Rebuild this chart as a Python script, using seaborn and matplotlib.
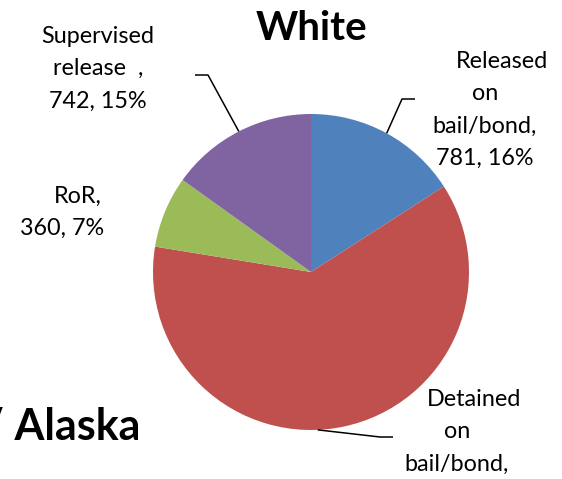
import numpy as np
import seaborn as sns
import matplotlib.pyplot as plt

# data
categories = ["Released on bail/bond", "Detained on bail/bond", "RoR", "Supervised release"]
counts = [781, 3030, 360, 742]
# wrapped label lines as shown in the chart (last line = "count, pct%")
label_lines = [["Released", "on", "bail/bond,"],
               ["Detained", "on", "bail/bond,"],
               ["RoR,"],
               ["Supervised", "release  ,"]]
colors = sns.color_palette(["#4F81BD", "#C0504D", "#9BBB59", "#8064A2"])

sns.set_style("white")
plt.rcParams['font.family'] = ['Lato', 'DejaVu Sans']

W, H = 562, 479
fig = plt.figure(figsize=(W / 100, H / 100), dpi=100)
ax = fig.add_axes([0, 0, 1, 1])

cx, cy, r = 311, H - 272, 158
wedges, _ = ax.pie(counts, colors=colors, startangle=90, counterclock=False,
                   center=(cx, cy), radius=r, wedgeprops=dict(linewidth=0))
ax.set_xlim(0, W)
ax.set_ylim(0, H)
ax.set_aspect('equal')
ax.axis('off')

total = sum(counts)
pct = [round(100 * c / total) for c in counts]

# layout of each label: x of first line, x of other lines, first baseline (px from top)
lab_pos = [(502, 485, 68), (474, 457, 406), (78, 62, 203), (98, 98, 43)]
pitch = 32.3
fs = 16.8
for i, (lines, (x1, x2, y0)) in enumerate(zip(label_lines, lab_pos)):
    txt = lines + [f"{counts[i]}, {pct[i]}%"]
    for j, t in enumerate(txt):
        ax.text(x1 if j == 0 else x2, H - (y0 + j * pitch), t, ha='center',
                va='baseline', fontsize=fs, color='black')

# leader lines: point on the pie edge, elbow, end (px)
lead_frac = [0.5, 0.458, None, 0.5]
lead_pts = [((402, 99), (415, 99)), ((380, 437), (393, 437)), None, ((208, 75), (195, 75))]
for w, f, pts in zip(wedges, lead_frac, lead_pts):
    if pts is None:
        continue
    a = np.deg2rad(w.theta1 + f * (w.theta2 - w.theta1))
    ex, ey = cx + r * np.cos(a), cy + r * np.sin(a)
    ax.plot([ex, pts[0][0], pts[1][0]], [ey, H - pts[0][1], H - pts[1][1]],
            color='black', lw=1.1, solid_capstyle='butt')

ax.text(311, H - 40, "White", ha='center', va='baseline', fontsize=29,
        fontweight='bold', color='black')
# title of the neighbouring chart, cut off at the left edge
ax.text(140, H - 440, "/ Alaska", ha='right', va='baseline', fontsize=31,
        fontweight='bold', color='black')

fig.savefig("out.png", dpi=100)
